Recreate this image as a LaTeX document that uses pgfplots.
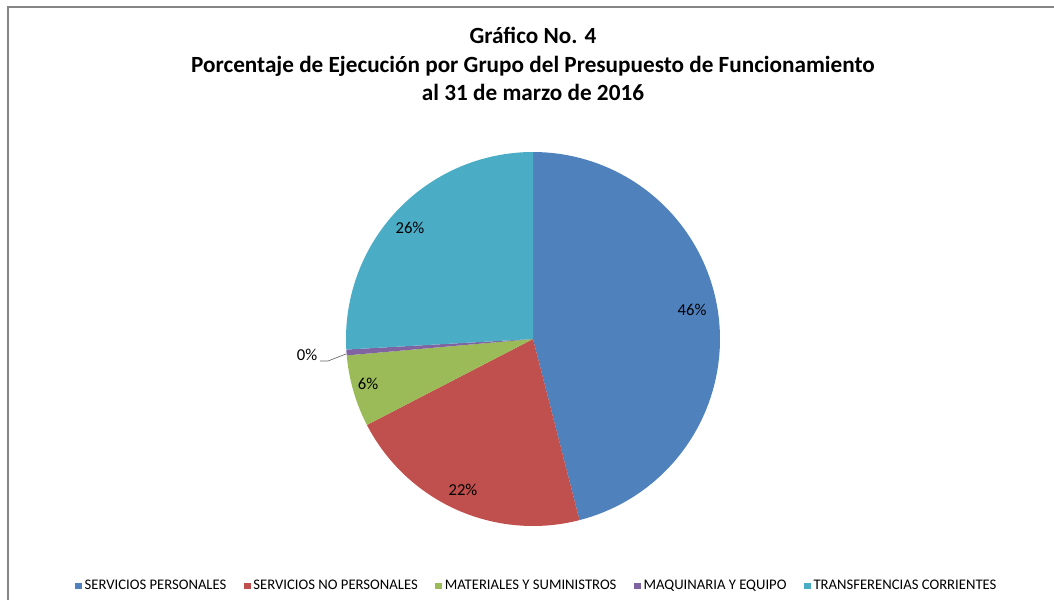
\documentclass[border=0pt]{standalone}
\usepackage{fontspec}
\setmainfont{Carlito}
\usepackage{pgfplots}
\pgfplotsset{compat=1.18}

\definecolor{cA}{HTML}{4F81BD}
\definecolor{cB}{HTML}{C0504D}
\definecolor{cC}{HTML}{9BBB59}
\definecolor{cD}{HTML}{8064A2}
\definecolor{cE}{HTML}{4BACC6}
\definecolor{frame}{HTML}{868686}

% share of each group (%)
\def\pA{46.0}  % servicios personales
\def\pB{21.4}  % servicios no personales
\def\pC{6.2}   % materiales y suministros
\def\pD{0.5}   % maquinaria y equipo
\def\pE{25.9}  % transferencias corrientes
\def\R{187}

\begin{document}
\begin{tikzpicture}
\pgfmathsetmacro\aA{90-3.6*\pA}
\pgfmathsetmacro\aB{\aA-3.6*\pB}
\pgfmathsetmacro\aC{\aB-3.6*\pC}
\pgfmathsetmacro\aD{\aC-3.6*\pD}
\pgfmathsetmacro\aE{\aD-3.6*\pE}
\begin{axis}[
    at={(0,0)}, anchor=south west,
    x=0.75pt, y=0.75pt,
    xmin=-533, xmax=521, ymin=-261, ymax=339,
    hide axis,
    clip=false,
    variable=\t, samples=90,
    legend columns=-1,
    legend image code/.code={\fill[#1] (0pt,-2.6pt) rectangle (5.3pt,2.6pt);},
    legend style={at={(axis cs:4,-247)}, anchor=center, draw=none, fill=none,
        font=\fontsize{11}{12}\selectfont, inner sep=0pt,
        /tikz/every even column/.append style={column sep=11pt},
        /tikz/every odd column/.append style={column sep=0pt}},
]
\addplot[fill=cA, draw=none, domain=90:\aA] ({\R*cos(\t)},{\R*sin(\t)}) -- (axis cs:0,0) -- cycle;
\addlegendentry{SERVICIOS PERSONALES}
\addplot[fill=cB, draw=none, domain=\aA:\aB] ({\R*cos(\t)},{\R*sin(\t)}) -- (axis cs:0,0) -- cycle;
\addlegendentry{SERVICIOS NO PERSONALES}
\addplot[fill=cC, draw=none, domain=\aB:\aC] ({\R*cos(\t)},{\R*sin(\t)}) -- (axis cs:0,0) -- cycle;
\addlegendentry{MATERIALES Y SUMINISTROS}
\addplot[fill=cD, draw=none, domain=\aC:\aD, samples=5] ({\R*cos(\t)},{\R*sin(\t)}) -- (axis cs:0,0) -- cycle;
\addlegendentry{MAQUINARIA Y EQUIPO}
\addplot[fill=cE, draw=none, domain=\aD:\aE] ({\R*cos(\t)},{\R*sin(\t)}) -- (axis cs:0,0) -- cycle;
\addlegendentry{TRANSFERENCIAS CORRIENTES}

% chart frame
\draw[frame, line width=0.8pt] (axis cs:-525,-262) -- (axis cs:-525,332) -- (axis cs:522,332);

% title
\node[font=\fontsize{17.4}{21.5}\selectfont\bfseries, align=center] at (axis cs:0,275)
    {Gráfico No. 4\\Porcentaje de Ejecución por Grupo del Presupuesto de Funcionamiento\\al 31 de marzo de 2016};

% data labels
\begin{scope}[every node/.style={font=\fontsize{12.5}{14}\selectfont}]
\node at (axis cs:159,29) {46\%};
\node at (axis cs:-70,-151) {22\%};
\node at (axis cs:-165,-45) {6\%};
\node at (axis cs:-226,-16) {0\%};
\node at (axis cs:-123,111) {26\%};
\end{scope}
\draw[black!60, line width=0.5pt] (axis cs:-213,-22) -- (axis cs:-205,-22) -- (axis cs:-187,-15);
\end{axis}
\pgfresetboundingbox
\path[use as bounding box] (0,0) rectangle (790.5pt,450pt);
\end{tikzpicture}
\end{document}
